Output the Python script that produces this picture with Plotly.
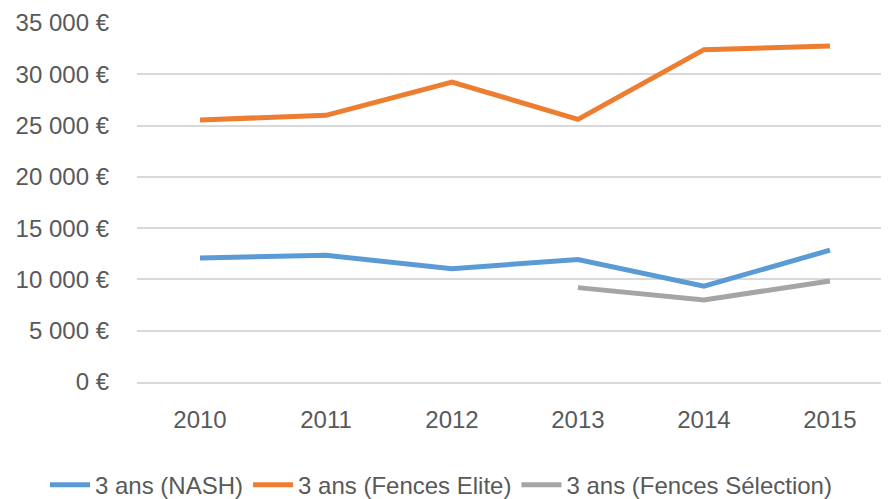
import plotly.graph_objects as go

years = ["2010", "2011", "2012", "2013", "2014", "2015"]
nash = [12100, 12350, 11050, 11950, 9350, 12850]
fences_elite = [25550, 26000, 29250, 25600, 32400, 32750]
fences_selection = [None, None, None, 9200, 8000, 9850]
y_ticks = [0, 5000, 10000, 15000, 20000, 25000, 30000, 35000]
y_labels = ["0 €", "5 000 €", "10 000 €", "15 000 €", "20 000 €", "25 000 €", "30 000 €", "35 000 €"]

FONT = "Liberation Sans, Arial, sans-serif"

fig = go.Figure()
fig.add_trace(go.Scatter(x=years, y=nash, mode="lines", name="3 ans (NASH)",
                         line=dict(color="#5B9BD5", width=5)))
fig.add_trace(go.Scatter(x=years, y=fences_elite, mode="lines", name="3 ans (Fences Elite)",
                         line=dict(color="#ED7D31", width=5)))
fig.add_trace(go.Scatter(x=years, y=fences_selection, mode="lines", name="3 ans (Fences Sélection)",
                         line=dict(color="#A5A5A5", width=5), connectgaps=False))

# page body has an 8px margin, so the figure is 8px smaller and offset
fig.update_layout(
    width=881, height=491,
    margin=dict(l=129, r=4, t=15, b=117, autoexpand=False),
    paper_bgcolor="white", plot_bgcolor="white",
    font=dict(family=FONT, size=24, color="#595959"),
    showlegend=True,
    legend=dict(orientation="h", xref="paper", yref="paper",
                x=-0.123, y=-0.287, xanchor="left", yanchor="middle",
                font=dict(size=24, color="#595959"), itemwidth=40,
                tracegroupgap=0),
)
fig.update_xaxes(type="category", range=[-0.5, 5.437], showgrid=False,
                 showline=True, linecolor="#D9D9D9", linewidth=1.5,
                 ticks="", ticklabelstandoff=15, zeroline=False)
fig.update_yaxes(range=[0, 35000], tickvals=y_ticks, ticktext=y_labels,
                 showgrid=True, gridcolor="#D9D9D9", gridwidth=1.5,
                 zeroline=False, showline=False, ticks="", ticklabelstandoff=27)

fig.write_html("out.html")
